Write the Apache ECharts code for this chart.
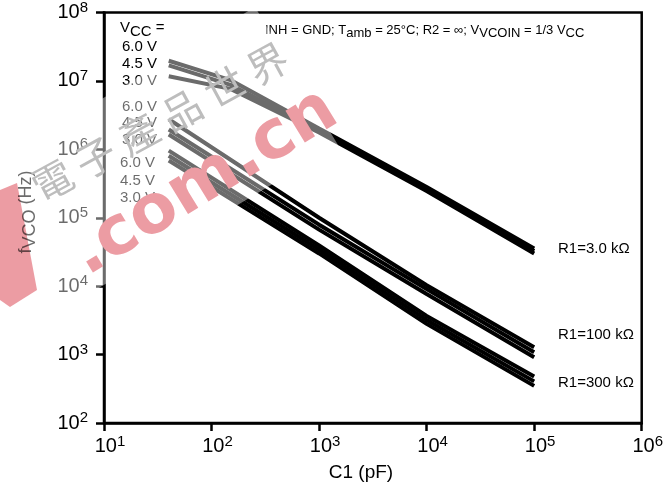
<!DOCTYPE html>
<html>
<head>
<meta charset="utf-8">
<script src="https://cdn.jsdelivr.net/npm/echarts@6/dist/echarts.min.js"></script>
<style>
  html, body { margin: 0; padding: 0; background: #fff; }
  #chart { width: 666px; height: 490px; }
</style>
</head>
<body>
<div id="chart"></div>
<script>
// C1 (pF) sample points
const c1Fast = [40, 150, 1000, 10000, 100000];
const c1Slow = [40, 1000, 10000, 100000];

// fVCO (Hz) for R1 = 3.0 kOhm, Vcc = 6.0 / 4.5 / 3.0 V
const r3k_6v0 = [1.97e7, 1.03e7, 2.01e6, 2.81e5, 3.56e4];
const r3k_4v5 = [1.69e7, 8.75e6, 1.89e6, 2.63e5, 3.27e4];
const r3k_3v0 = [1.17e7, 7.66e6, 1.76e6, 2.46e5, 3.01e4];
// R1 = 100 kOhm
const r100k_6v0 = [2.75e6, 1.0e5, 1.03e4, 1.28e3];
const r100k_4v5 = [1.95e6, 7.92e4, 9.06e3, 1.08e3];
const r100k_3v0 = [1.65e6, 6.7e4, 7.66e3, 9.14e2];
// R1 = 300 kOhm
const r300k_6v0 = [9.57e5, 3.93e4, 3.67e3, 4.8e2];
const r300k_4v5 = [8.05e5, 3.44e4, 3.21e3, 4.06e2];
const r300k_3v0 = [6.86e5, 3.01e4, 2.81e3, 3.49e2];

const vccLabels = ["6.0 V", "4.5 V", "3.0 V"];
const r1Labels = ["R1=3.0 kΩ", "R1=100 kΩ", "R1=300 kΩ"];

const NARROW = '"Liberation Sans Narrow", "Liberation Sans", Arial, sans-serif';

const curves = [
  [c1Fast, r3k_6v0], [c1Fast, r3k_4v5], [c1Fast, r3k_3v0],
  [c1Slow, r100k_6v0], [c1Slow, r100k_4v5], [c1Slow, r100k_3v0],
  [c1Slow, r300k_6v0], [c1Slow, r300k_4v5], [c1Slow, r300k_3v0],
];

function pts(xs, ys) {
  return xs.map((x, i) => [x, ys[i]]);
}

function pow10(v) {
  return "{b|10}{s|" + Math.round(Math.log10(v)) + "}";
}

const tickRich = {
  b: { fontFamily: NARROW, fontSize: 20, color: "#000" },
  s: { fontFamily: NARROW, fontSize: 15, color: "#000", padding: [0, 0, 10, 0] },
};

const chart = echarts.init(document.getElementById("chart"));

// vcc labels in the top-left corner
const vccRows = [47, 64, 81, 107, 123, 140, 163, 181, 198];
const vccX = [122, 122, 122, 122, 122, 122, 120, 120, 120];
const textEls = vccRows.map((y, i) => ({
  type: "text",
  x: vccX[i],
  y: y,
  z: 50,
  style: {
    text: vccLabels[i % 3],
    font: "15px " + NARROW,
    fill: "#000",
    textVerticalAlign: "middle",
  },
}));

const r1Rows = [249, 335, 383];
r1Labels.forEach((t, i) => {
  textEls.push({
    type: "text",
    x: 558,
    y: r1Rows[i],
    z: 50,
    style: { text: t, font: "15px " + NARROW, fill: "#000", textVerticalAlign: "middle" },
  });
});

const option = {
  animation: false,
  backgroundColor: "#fff",
  grid: {
    left: 104,
    right: 23,
    top: 9,
    bottom: 67,
    show: true,
    borderColor: "#000",
    borderWidth: 2.5,
  },
  xAxis: {
    type: "log",
    logBase: 10,
    min: 10,
    max: 1e6,
    interval: 1,
    axisLine: { lineStyle: { color: "#000", width: 2.5 } },
    axisTick: { length: 8, lineStyle: { color: "#000", width: 2.5 } },
    minorTick: { show: false },
    splitLine: { show: false },
    axisLabel: {
      margin: 11,
      padding: [0, 0, 0, 12],
      formatter: pow10,
      rich: tickRich,
    },
  },
  yAxis: {
    type: "log",
    logBase: 10,
    min: 100,
    max: 1e8,
    interval: 1,
    axisLine: { lineStyle: { color: "#000", width: 2.5 } },
    axisTick: { length: 8, lineStyle: { color: "#000", width: 2.5 } },
    minorTick: { show: false },
    splitLine: { show: false },
    axisLabel: {
      margin: 16,
      formatter: pow10,
      rich: tickRich,
    },
  },
  series: curves.map((c) => ({
    type: "line",
    data: pts(c[0], c[1]),
    symbol: "none",
    silent: true,
    lineStyle: { color: "#000", width: 4, cap: "butt" },
  })),
  graphic: [
    ...textEls,
    {
      type: "text",
      x: 120,
      y: 28,
      z: 50,
      style: {
        text: "V{s|CC} =",
        font: "15px " + NARROW,
        fill: "#000",
        textVerticalAlign: "middle",
        rich: { s: { font: "15px " + NARROW, padding: [8, 0, 0, 0] } },
      },
    },
    {
      type: "text",
      x: 265,
      y: 30,
      z: 50,
      style: {
        text: "INH = GND; T{s|amb} = 25°C; R2 = ∞; V{s|VCOIN} = 1/3 V{s|CC}",
        font: "13px " + NARROW,
        fill: "#000",
        textVerticalAlign: "middle",
        rich: { s: { font: "13px " + NARROW, padding: [7, 0, 0, 0] } },
      },
    },
    {
      type: "text",
      x: 361,
      y: 473,
      z: 50,
      style: {
        text: "C1 (pF)",
        font: "19px " + NARROW,
        fill: "#000",
        textAlign: "center",
        textVerticalAlign: "middle",
      },
    },
    {
      type: "text",
      x: 26,
      y: 212,
      z: 50,
      rotation: Math.PI / 2,
      style: {
        text: "f{s|VCO} (Hz)",
        font: "18px " + NARROW,
        fill: "#000",
        textAlign: "center",
        textVerticalAlign: "middle",
        rich: { s: { font: "18px " + NARROW, padding: [9, 0, 0, 0] } },
      },
    },
    // watermark: whitened band
    {
      type: "polygon",
      z: 100,
      silent: true,
      shape: { points: [[0, 160], [255, 7], [338, 145], [0, 347]] },
      style: { fill: "rgba(255,255,255,0.42)" },
    },
    {
      type: "text",
      x: 160,
      y: 122,
      z: 101,
      rotation: 0.5,
      silent: true,
      style: {
        text: "電 子 產 品 世 界",
        font: '40px "Noto Sans CJK TC"',
        fill: "#bdbdbd",
        textAlign: "center",
        textVerticalAlign: "middle",
        blend: "multiply",
      },
    },
    {
      type: "text",
      x: 205,
      y: 183,
      z: 102,
      rotation: 0.55,
      silent: true,
      style: {
        text: ".com.cn",
        font: 'bold 68px "DejaVu Sans"',
        fill: "#ec9ca3",
        textAlign: "center",
        textVerticalAlign: "middle",
        blend: "multiply",
      },
    },
    {
      type: "polygon",
      z: 102,
      silent: true,
      shape: { points: [[0, 190], [17, 183], [37, 290], [10, 307], [0, 300]] },
      style: { fill: "#ec9ca3", blend: "multiply" },
    },
  ],
};

chart.setOption(option);
</script>
</body>
</html>
